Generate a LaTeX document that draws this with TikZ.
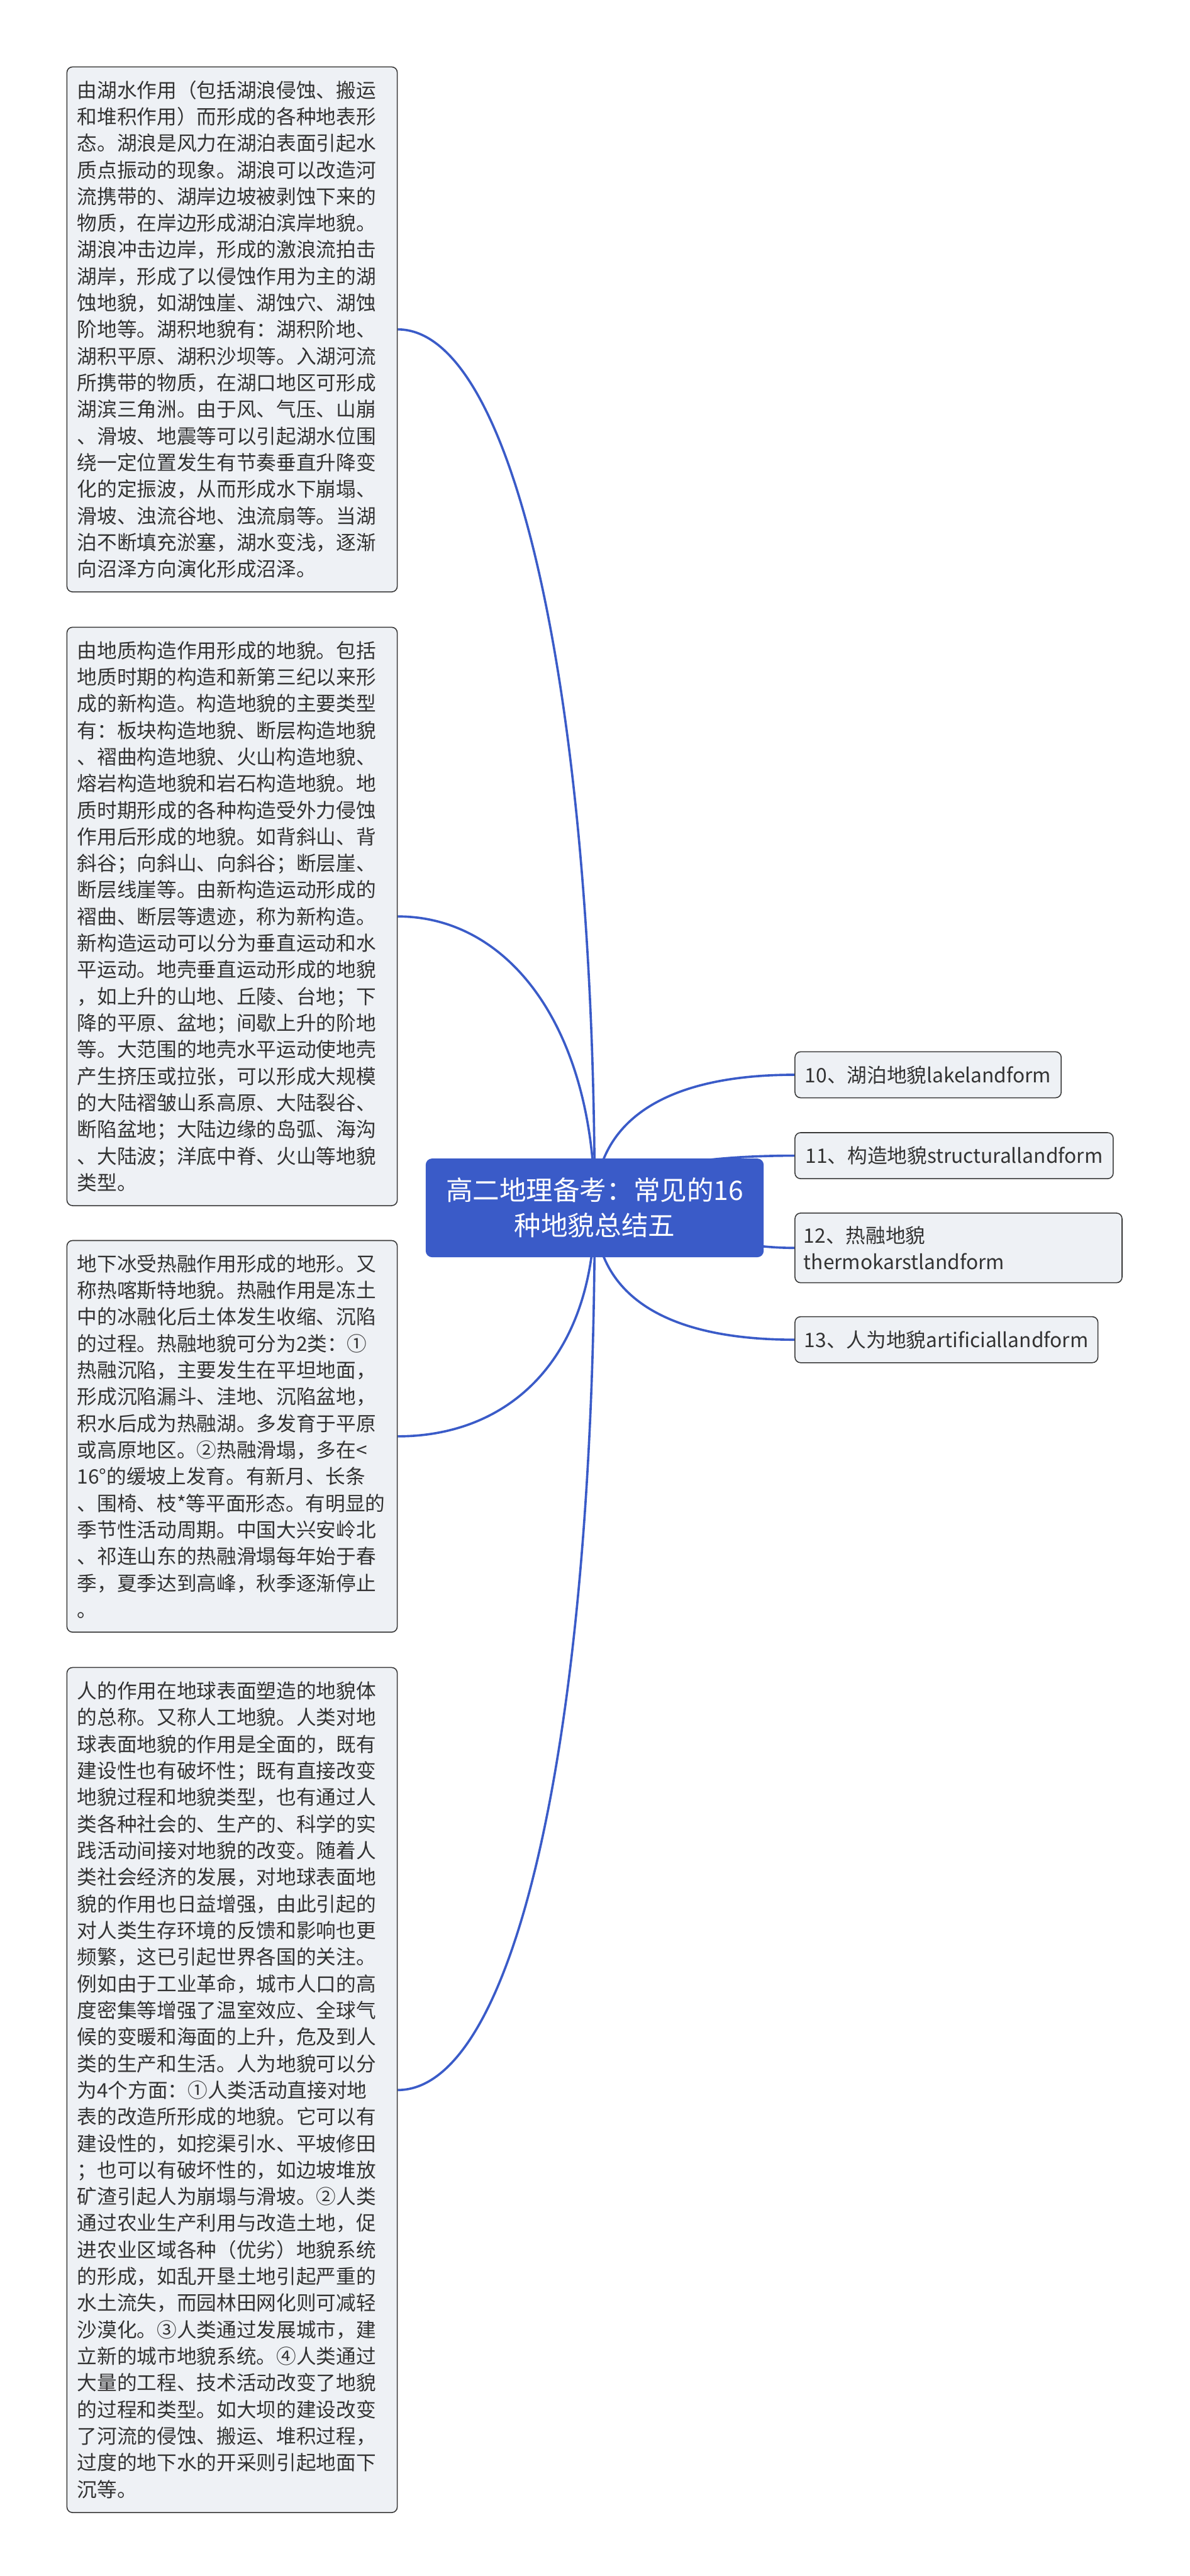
\documentclass[tikz,border=0pt]{standalone}
\usepackage{fontspec}
\setmainfont{Noto Sans CJK SC}
\usetikzlibrary{positioning,backgrounds}
\definecolor{rootblue}{HTML}{3A5BC8}
\definecolor{linkblue}{HTML}{3A5BC8}
\definecolor{boxfill}{HTML}{EEF1F5}
\definecolor{boxline}{HTML}{383838}
\definecolor{textgray}{HTML}{333333}

\begin{document}
\begin{tikzpicture}
	[font=\fontsize{12.2pt}{16.3pt}\selectfont,
	% STYLES
	% The topic style is used for the title in the middle
	topic/.style={rectangle, rounded corners=0.13cm, fill=rootblue, draw=rootblue, text=white, minimum width=7.26cm, minimum height=2.11cm, align=center, font=\fontsize{16.4pt}{21.5pt}\selectfont},
	% The branch style is used for the landform names on the right
	branch/.style={rectangle, rounded corners=0.12cm, draw=boxline, line width=0.6pt, fill=boxfill, text=textgray, inner xsep=0.19cm, inner ysep=0.28cm, minimum height=0.99cm, align=left},
	% The detail style is used for the long texts on the left
	detail/.style={rectangle, rounded corners=0.12cm, draw=boxline, line width=0.6pt, fill=boxfill, text=textgray, text width=6.67cm, inner xsep=0.22cm, inner ysep=0.27cm, align=left},
	% The link style is used for the curves
	link/.style={draw=linkblue, line width=1.4pt}]
	\useasboundingbox (0,0) rectangle (25.6,-55.45);
	% Draw topic
	\node [topic] (root) at (12.8,-26.0) {高二地理备考：常见的16\\种地貌总结五};
	% Draw branches
	\node [branch, anchor=west, minimum width=5.73cm] (lake) at (17.10,-23.135) {10、湖泊地貌lakelandform};
	\node [branch, minimum width=6.85cm, below=0.73cm of lake.south west, anchor=north west] (struct) {11、构造地貌structurallandform};
	\node [branch, text width=6.66cm, below=0.72cm of struct.south west, anchor=north west] (thermo) {12、热融地貌\\thermokarstlandform};
	\node [branch, minimum width=6.52cm, below=0.71cm of thermo.south west, anchor=north west] (artif) {13、人为地貌artificiallandform};
	%%%%%%%%%%%%%%%
	% Details from here
	% lake
	\node [detail, anchor=north west, minimum height=11.30cm] (lake-desc) at (1.43,-1.43) {由湖水作用（包括湖浪侵蚀、搬运\\和堆积作用）而形成的各种地表形\\态。湖浪是风力在湖泊表面引起水\\质点振动的现象。湖浪可以改造河\\流携带的、湖岸边坡被剥蚀下来的\\物质，在岸边形成湖泊滨岸地貌。\\湖浪冲击边岸，形成的激浪流拍击\\湖岸，形成了以侵蚀作用为主的湖\\蚀地貌，如湖蚀崖、湖蚀穴、湖蚀\\阶地等。湖积地貌有：湖积阶地、\\湖积平原、湖积沙坝等。入湖河流\\所携带的物质，在湖口地区可形成\\湖滨三角洲。由于风、气压、山崩\\、滑坡、地震等可以引起湖水位围\\绕一定位置发生有节奏垂直升降变\\化的定振波，从而形成水下崩塌、\\滑坡、浊流谷地、浊流扇等。当湖\\泊不断填充淤塞，湖水变浅，逐渐\\向沼泽方向演化形成沼泽。};
	% struct
	\node [detail, minimum height=12.45cm, below=0.74cm of lake-desc] (struct-desc) {由地质构造作用形成的地貌。包括\\地质时期的构造和新第三纪以来形\\成的新构造。构造地貌的主要类型\\有：板块构造地貌、断层构造地貌\\、褶曲构造地貌、火山构造地貌、\\熔岩构造地貌和岩石构造地貌。地\\质时期形成的各种构造受外力侵蚀\\作用后形成的地貌。如背斜山、背\\斜谷；向斜山、向斜谷；断层崖、\\断层线崖等。由新构造运动形成的\\褶曲、断层等遗迹，称为新构造。\\新构造运动可以分为垂直运动和水\\平运动。地壳垂直运动形成的地貌\\，如上升的山地、丘陵、台地；下\\降的平原、盆地；间歇上升的阶地\\等。大范围的地壳水平运动使地壳\\产生挤压或拉张，可以形成大规模\\的大陆褶皱山系高原、大陆裂谷、\\断陷盆地；大陆边缘的岛弧、海沟\\、大陆波；洋底中脊、火山等地貌\\类型。};
	% thermo
	\node [detail, minimum height=8.43cm, below=0.73cm of struct-desc] (thermo-desc) {地下冰受热融作用形成的地形。又\\称热喀斯特地貌。热融作用是冻土\\中的冰融化后土体发生收缩、沉陷\\的过程。热融地貌可分为2类：①\\热融沉陷，主要发生在平坦地面，\\形成沉陷漏斗、洼地、沉陷盆地，\\积水后成为热融湖。多发育于平原\\或高原地区。②热融滑塌，多在<\\16°的缓坡上发育。有新月、长条\\、围椅、枝*等平面形态。有明显的\\季节性活动周期。中国大兴安岭北\\、祁连山东的热融滑塌每年始于春\\季，夏季达到高峰，秋季逐渐停止\\。};
	% artif
	\node [detail, minimum height=18.19cm, below=0.74cm of thermo-desc] (artif-desc) {人的作用在地球表面塑造的地貌体\\的总称。又称人工地貌。人类对地\\球表面地貌的作用是全面的，既有\\建设性也有破坏性；既有直接改变\\地貌过程和地貌类型，也有通过人\\类各种社会的、生产的、科学的实\\践活动间接对地貌的改变。随着人\\类社会经济的发展，对地球表面地\\貌的作用也日益增强，由此引起的\\对人类生存环境的反馈和影响也更\\频繁，这已引起世界各国的关注。\\例如由于工业革命，城市人口的高\\度密集等增强了温室效应、全球气\\候的变暖和海面的上升，危及到人\\类的生产和生活。人为地貌可以分\\为4个方面：①人类活动直接对地\\表的改造所形成的地貌。它可以有\\建设性的，如挖渠引水、平坡修田\\；也可以有破坏性的，如边坡堆放\\矿渣引起人为崩塌与滑坡。②人类\\通过农业生产利用与改造土地，促\\进农业区域各种（优劣）地貌系统\\的形成，如乱开垦土地引起严重的\\水土流失，而园林田网化则可减轻\\沙漠化。③人类通过发展城市，建\\立新的城市地貌系统。④人类通过\\大量的工程、技术活动改变了地貌\\的过程和类型。如大坝的建设改变\\了河流的侵蚀、搬运、堆积过程，\\过度的地下水的开采则引起地面下\\沉等。};
	%%%%%%%%%%%%%%%%
	% Draw the links behind the boxes
	\begin{scope}[on background layer]
	\path[link]
	(root.center) edge[out=90, in=180, out distance=2cm, in distance=2.6cm] (lake.west)
	(root.center) edge[out=90, in=180, out distance=0.5cm, in distance=3.1cm] (struct.west)
	(root.center) edge[out=0, in=180, out distance=1cm, in distance=2cm] (thermo.west)
	(root.center) edge[out=-90, in=180, out distance=2cm, in distance=2.6cm] (artif.west)
	(root.center) edge[out=90, in=0, out distance=11.05cm, in distance=2.5cm] (lake-desc.east)
	(root.center) edge[out=90, in=0, out distance=3.8cm, in distance=2.44cm] (struct-desc.east)
	(root.center) edge[out=-90, in=0, out distance=3.2cm, in distance=2.44cm] (thermo-desc.east)
	(root.center) edge[out=-90, in=0, out distance=11.5cm, in distance=2.5cm] (artif-desc.east);
	\end{scope}
\end{tikzpicture}
\end{document}
